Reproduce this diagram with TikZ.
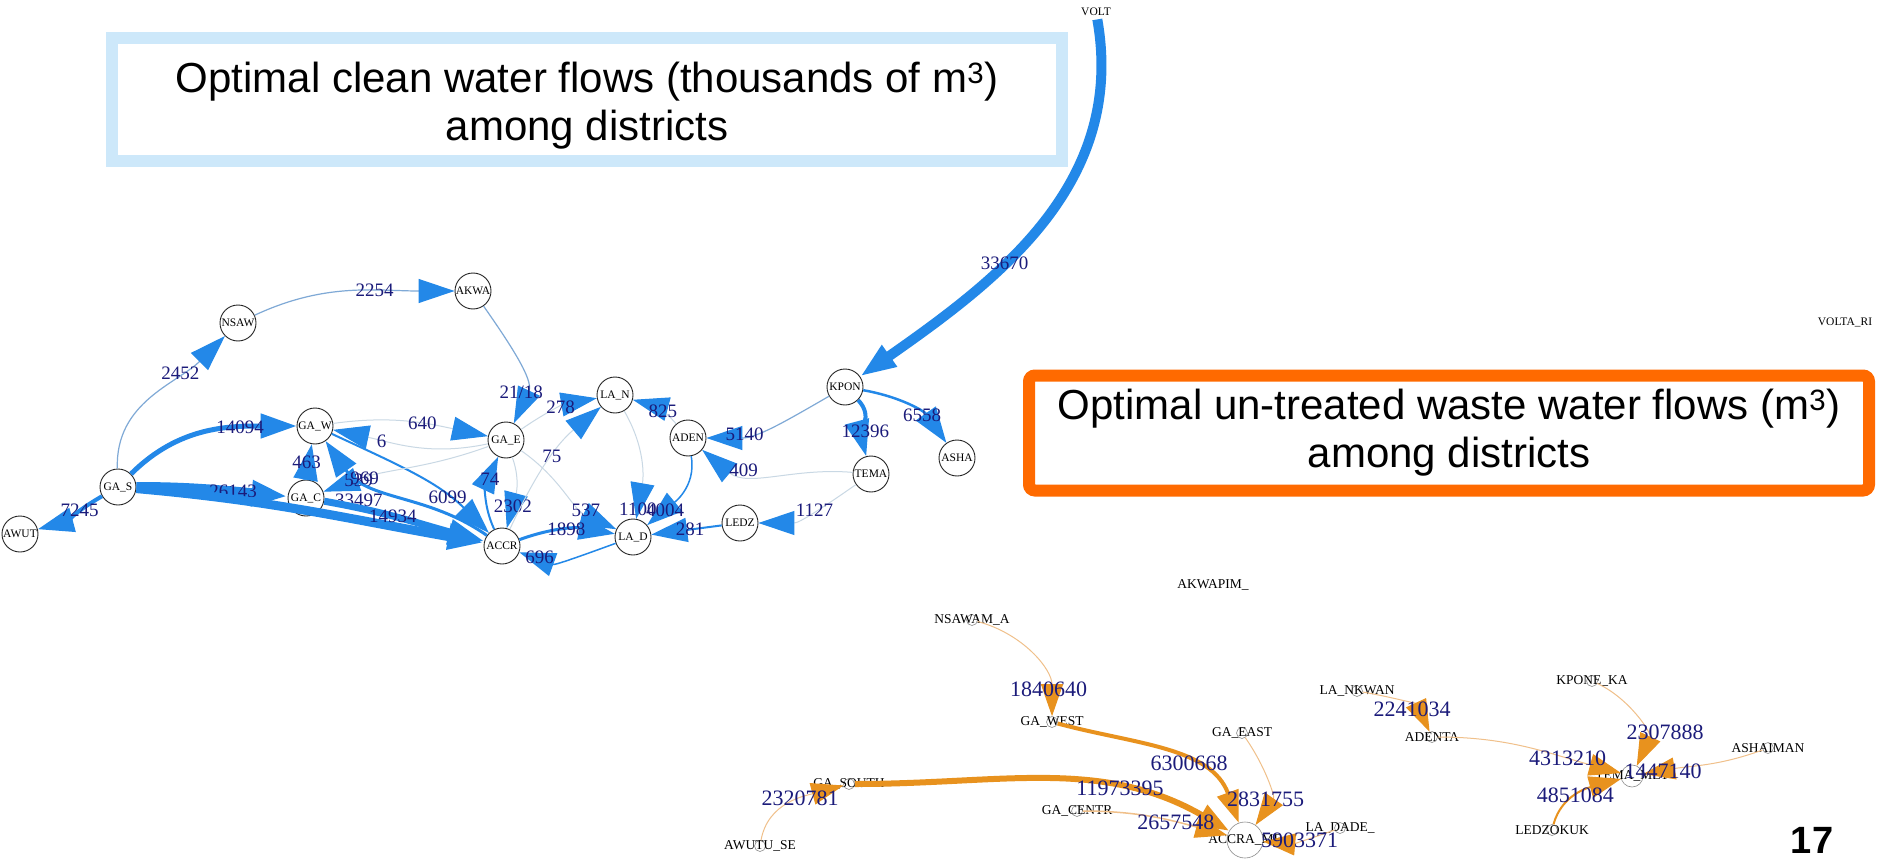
\documentclass[tikz,border=0pt]{standalone}
\usepackage{fontspec}
\setmainfont{Liberation Serif}
\setsansfont{Liberation Sans}
\usepackage{tikz}
\usetikzlibrary{arrows.meta, positioning}

\definecolor{flowblue}{HTML}{2388E8}
\definecolor{thinblue}{HTML}{7FA9D6}
\definecolor{paleblue}{HTML}{C9D8E4}
\definecolor{labnavy}{HTML}{1B1B7A}
\definecolor{wasteorange}{HTML}{E8921E}
\definecolor{paleorange}{HTML}{F0C08A}
\definecolor{boxblue}{HTML}{CDE8FA}
\definecolor{boxorange}{HTML}{FF6A00}

\begin{document}
\begin{tikzpicture}[x=1pt, y=-1pt,
  district/.style={circle, draw=black!85, fill=white, line width=0.9pt, minimum size=36pt, inner sep=0pt, font=\fontsize{11.5}{12}\selectfont},
  sink/.style={circle, draw=black!45, line width=0.6pt, minimum size=11pt, inner sep=0pt},
  tag/.style={font=\fontsize{13.5}{14}\selectfont, inner sep=0pt},
  num/.style={text=labnavy, font=\fontsize{19}{19}\selectfont, inner sep=0pt},
  bignum/.style={text=labnavy, font=\fontsize{22}{22}\selectfont, inner sep=0pt},
  clean/.style={draw=flowblue, line width=#1, -{Triangle[length=36pt, width=24pt, color=flowblue]}},
  clean/.default=1pt,
  faint/.style={clean=1pt, draw=paleblue},
  slim/.style={clean=1.2pt, draw=thinblue},
  waste/.style={draw=wasteorange, line width=#1, -{Triangle[length=32pt, width=22pt, color=wasteorange]}},
  waste/.default=1pt,
  trickle/.style={waste=1pt, draw=paleorange},
  headline/.style={draw=#1, line width=12pt, fill=white, align=center, font=\sffamily\fontsize{42}{48}\selectfont}]

\path[use as bounding box, fill=white] (0,0) rectangle (1884,861);

% clean water network
\node[font=\fontsize{11.5}{12}\selectfont] (volt) at (1096,12) {VOLT};
\node[font=\fontsize{11.5}{12}\selectfont] (voltari) at (1845,322) {VOLTA\_RI};
\node[district] (gas) at (118,487) {GA\_S};
\node[district] (awut) at (20,534) {AWUT};
\node[district] (nsaw) at (238,323) {NSAW};
\node[district] (akwa) at (473,291) {AKWA};
\node[district] (gaw) at (315,426) {GA\_W};
\node[district] (gac) at (306,498) {GA\_C};
\node[district] (gae) at (506,440) {GA\_E};
\node[district] (accr) at (502,546) {ACCR};
\node[district] (lan) at (615,395) {LA\_N};
\node[district] (aden) at (688,438) {ADEN};
\node[district] (lad) at (633,537) {LA\_D};
\node[district] (ledz) at (740,523) {LEDZ};
\node[district] (tema) at (871,474) {TEMA};
\node[district] (kpon) at (845,387) {KPON};
\node[district] (asha) at (957,458) {ASHA};

\path (volt) edge[clean=10pt, out=-80, in=35] node[num, pos=0.62]{33670} (kpon)
      (kpon) edge[slim, out=210, in=0] node[num, pos=0.72]{5140} (aden)
             edge[clean=4pt, out=-45, in=105] node[num, pos=0.6]{12396} (tema)
             edge[clean=2.5pt, out=-10, in=125] node[num, pos=0.65]{6558} (asha)
      (tema) edge[faint, out=175, in=-40] node[num, pos=0.7]{409} (aden)
             edge[faint, out=215, in=0] node[num, pos=0.45]{1127} (ledz)
      (ledz) edge[clean=2pt] node[num, pos=0.45]{281} (lad)
      (aden) edge[clean=1.5pt, out=-80, in=40] node[num, pos=0.75]{4004} (lad)
             edge[faint, out=130, in=-15] node[num, pos=0.35]{825} (lan)
      (lan)  edge[faint, out=-60, in=80] node[num, pos=0.92]{1100} (lad)
      (gas)  edge[slim, out=92, in=225] node[num, pos=0.7]{2452} (nsaw)
             edge[clean=5pt, out=45, in=180] node[num, pos=0.7]{14094} (gaw)
             edge[clean=10pt, out=0, in=175] node[num, pos=0.65]{26143} (gac)
             edge[clean=9pt, out=-5, in=170] node[num, pos=0.62, xshift=10pt, yshift=18pt]{33497} (accr)
             edge[clean=4pt, out=-150, in=15] node[num, pos=0.35]{7245} (awut)
      (nsaw) edge[slim, out=25, in=180] node[num, pos=0.62]{2254} (akwa)
      (akwa) edge[slim, out=-55, in=65] node[num, pos=0.75]{21/18} (gae)
      (gaw)  edge[faint, out=8, in=168] node[num, pos=0.58]{640} (gae)
             edge[clean=2pt, out=-25, in=135] node[num, pos=0.72]{6099} (accr)
      (gae)  edge[faint, out=192, in=-12] node[num, pos=0.7]{6} (gaw)
             edge[faint, out=200, in=20] node[num, pos=0.8]{539} (gac)
             edge[faint, out=-70, in=75] node[num, pos=0.7]{2302} (accr)
             edge[faint, out=35, in=190] node[num, pos=0.55]{278} (lan)
             edge[faint, out=-35, in=155] node[num, pos=0.72]{537} (lad)
      (gac)  edge[clean=3pt, out=95, in=-100] node[num, pos=0.5]{463} (gaw)
             edge[clean=7pt, out=-10, in=165] node[num, pos=0.42]{14934} (accr)
      (accr) edge[clean=3pt, out=145, in=-55] node[num, pos=0.72]{969} (gaw)
             edge[clean=2pt, out=115, in=-115] node[num, pos=0.7]{74} (gae)
             edge[faint, out=65, in=220] node[num, pos=0.55]{75} (lan)
             edge[clean=3pt, out=20, in=170] node[num, pos=0.5]{1898} (lad)
      (lad)  edge[clean=1.5pt, out=200, in=-20] node[num, pos=0.8]{696} (accr);

% waste water network
\node[sink, label={[tag]center:NSAWAM\_A}] (nsawam) at (972,620) {};
\node[sink, label={[tag]center:GA\_WEST}] (gawest) at (1052,722) {};
\node[sink, label={[tag]center:GA\_SOUTH}] (gasouth) at (849,784) {};
\node[sink, label={[tag]center:AWUTU\_SE}] (awutu) at (760,846) {};
\node[sink, label={[tag]center:GA\_CENTR}] (gacentr) at (1077,811) {};
\node[sink, label={[tag]center:GA\_EAST}] (gaeast) at (1242,733) {};
\node[sink, minimum size=36pt, label={[tag]center:ACCRA\_ME}] (accrame) at (1245,840) {};
\node[sink, label={[tag]center:LA\_DADE\_}] (ladade) at (1340,828) {};
\node[tag] (akwapim) at (1213,585) {AKWAPIM\_};
\node[sink, label={[tag]center:LA\_NKWAN}] (lankwan) at (1357,691) {};
\node[sink, label={[tag]center:ADENTA}] (adenta) at (1432,737) {};
\node[sink, label={[tag]center:KPONE\_KA}] (kponeka) at (1592,681) {};
\node[sink, minimum size=22pt, label={[tag]center:TEMA\_MET}] (temamet) at (1632,776) {};
\node[sink, label={[tag]center:ASHAIMAN}] (ashaiman) at (1768,748) {};
\node[sink, label={[tag]center:LEDZOKUK}] (ledzokuk) at (1552,830) {};

\path (nsawam)   edge[trickle, out=-15, in=90] node[bignum, pos=0.8]{1840640} (gawest)
      (awutu)    edge[trickle, out=80, in=195] node[bignum, pos=0.6]{2320781} (gasouth)
      (gasouth)  edge[waste=6pt, out=0, in=150] node[bignum, pos=0.7]{11973395} (accrame)
      (gawest)   edge[waste=4pt, out=-15, in=110] node[bignum, pos=0.62]{6300668} (accrame)
      (gacentr)  edge[waste=1.5pt, draw=paleorange, out=0, in=165] node[bignum, pos=0.65]{2657548} (accrame)
      (gaeast)   edge[trickle, out=-55, in=55] node[bignum, pos=0.7]{2831755} (accrame)
      (ladade)   edge[trickle, out=200, in=-5] node[bignum, pos=0.5]{5903371} (accrame)
      (lankwan)  edge[trickle, out=-10, in=115] node[bignum, pos=0.65]{2241034} (adenta)
      (adenta)   edge[trickle, out=0, in=165] node[bignum, pos=0.72]{4313210} (temamet)
      (kponeka)  edge[trickle, out=-25, in=65] node[bignum, pos=0.65, xshift=25pt]{2307888} (temamet)
      (ashaiman) edge[trickle, out=200, in=10] node[bignum, pos=0.85]{1447140} (temamet)
      (ledzokuk) edge[waste=2pt, out=75, in=195] node[bignum, pos=0.45]{4851084} (temamet);

% captions
\node[headline=boxblue, minimum width=950pt, minimum height=123pt] (cleanbox) at (587,100) {\rule{0pt}{41pt}Optimal clean water flows (thousands of m\textsuperscript{3})\\among districts};
\node[headline=boxorange, rounded corners=6pt, minimum width=840pt, minimum height=115pt] (wastebox) at (1449,433) {Optimal un-treated waste water flows (m\textsuperscript{3})\\among districts};
\node[font=\sffamily\bfseries\fontsize{38}{38}\selectfont] (pageno) at (1812,840) {17};
\end{tikzpicture}
\end{document}
